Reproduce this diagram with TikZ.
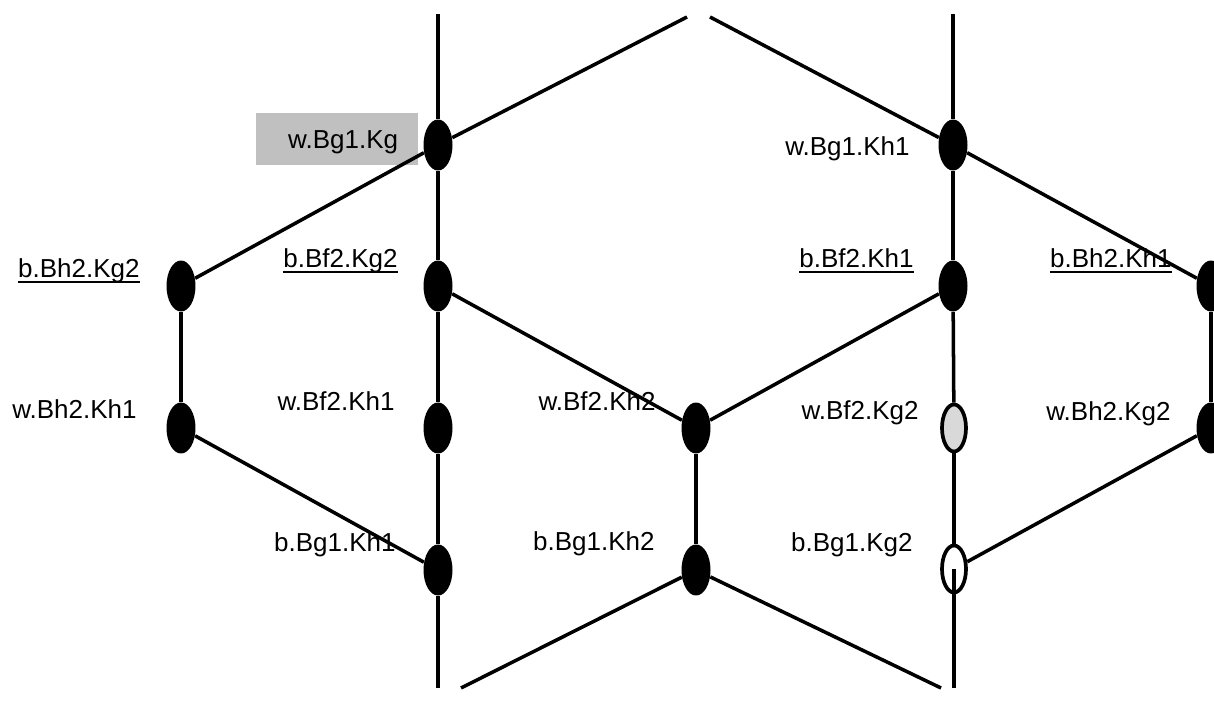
\documentclass[tikz,border=0pt]{standalone}
\usepackage{fontspec}
\setmainfont{Liberation Sans}
\usetikzlibrary{positioning, shapes.geometric}
\definecolor{boxgray}{RGB}{192,192,192}
\definecolor{nodegray}{RGB}{217,217,217}
\tikzset{
    font=\fontsize{14.8}{17}\selectfont,
    pos_black/.style={
        ellipse,
        fill=black,
        minimum width=0.58cm,
        minimum height=1.02cm,
        inner sep=0pt
    },
    pos_gray/.style={
        ellipse,
        draw=black,
        fill=nodegray,
        line width=2.1pt,
        minimum width=0.48cm,
        minimum height=0.94cm,
        inner sep=0pt
    },
    pos_white/.style={
        ellipse,
        draw=black,
        fill=white,
        line width=2.1pt,
        minimum width=0.48cm,
        minimum height=0.94cm,
        inner sep=0pt
    },
    pos_label/.style={
        anchor=base east,
        inner sep=0pt
    },
    pos_box/.style={
        rectangle,
        fill=boxgray,
        minimum width=3.24cm,
        minimum height=1.04cm,
        text height=10.6pt,
        text depth=0pt,
        inner sep=0pt
    },
    move_edge/.style={
        line width=2pt
    }
}
\newcommand{\ulab}[1]{\setbox0\hbox{#1}\rlap{\rule[-3.4pt]{\wd0}{1.1pt}}\box0}

\begin{document}
\begin{tikzpicture}[x=0.02cm, y=-0.02cm]
\useasboundingbox (0,0) rectangle (1214,713);

% --- Labels ---
\node[pos_box] (w_Bg1_Kg_lab) at (337,139) {\hspace{7pt}w.Bg1.Kg};
\node[pos_label] (b_Bh2_Kg2_lab) at (140,277) {\ulab{b.Bh2.Kg2}};
\node[pos_label] (w_Bh2_Kh1_lab) at (137,418) {w.Bh2.Kh1};
\node[pos_label] (b_Bf2_Kg2_lab) at (398,267) {\ulab{b.Bf2.Kg2}};
\node[pos_label] (w_Bf2_Kh1_lab) at (395,410) {w.Bf2.Kh1};
\node[pos_label] (b_Bg1_Kh1_lab) at (396,551) {b.Bg1.Kh1};
\node[pos_label] (w_Bf2_Kh2_lab) at (656,410) {w.Bf2.Kh2};
\node[pos_label] (b_Bg1_Kh2_lab) at (655,550) {b.Bg1.Kh2};
\node[pos_label] (w_Bg1_Kh1_lab) at (910,155) {w.Bg1.Kh1};
\node[pos_label] (b_Bf2_Kh1_lab) at (914,267) {\ulab{b.Bf2.Kh1}};
\node[pos_label] (w_Bf2_Kg2_lab) at (919,419) {w.Bf2.Kg2};
\node[pos_label] (b_Bg1_Kg2_lab) at (913,551) {b.Bg1.Kg2};
\node[pos_label] (b_Bh2_Kh1_lab) at (1172,267) {\ulab{b.Bh2.Kh1}};
\node[pos_label] (w_Bh2_Kg2_lab) at (1171,420) {w.Bh2.Kg2};

% --- Positions ---
\node[pos_black] (b_Bh2_Kg2) at (181,286) {};
\node[pos_black] (w_Bh2_Kh1) at (181,428) {};
\node[pos_black] (w_Bg1_Kg) at (438,145) {};
\node[pos_black] (b_Bf2_Kg2) at (438,286) {};
\node[pos_black] (w_Bf2_Kh1) at (438,428) {};
\node[pos_black] (b_Bg1_Kh1) at (438,570) {};
\node[pos_black] (w_Bf2_Kh2) at (696,428) {};
\node[pos_black] (b_Bg1_Kh2) at (696,570) {};
\node[pos_black] (w_Bg1_Kh1) at (953,145) {};
\node[pos_black] (b_Bf2_Kh1) at (953,286) {};
\node[pos_gray] (w_Bf2_Kg2) at (954,428) {};
\node[pos_white] (b_Bg1_Kg2) at (954,569) {};
\node[pos_black] (b_Bh2_Kh1) at (1211,286) {};
\node[pos_black] (w_Bh2_Kg2) at (1211,428) {};

% --- Open ends ---
\coordinate (top_a) at (438,14);
\coordinate (top_b) at (687,17);
\coordinate (top_c) at (710,17);
\coordinate (top_d) at (953,14);
\coordinate (bot_a) at (438,688);
\coordinate (bot_b) at (461,688);
\coordinate (bot_c) at (941,688);
\coordinate (bot_d) at (954,688);

% --- Moves ---
\draw[move_edge] (top_a) -- (w_Bg1_Kg);
\draw[move_edge] (w_Bg1_Kg) -- (b_Bf2_Kg2);
\draw[move_edge] (b_Bf2_Kg2) -- (w_Bf2_Kh1);
\draw[move_edge] (w_Bf2_Kh1) -- (b_Bg1_Kh1);
\draw[move_edge] (b_Bg1_Kh1) -- (bot_a);
\draw[move_edge] (w_Bg1_Kg) -- (top_b);
\draw[move_edge] (w_Bg1_Kg) -- (b_Bh2_Kg2);
\draw[move_edge] (b_Bh2_Kg2) -- (w_Bh2_Kh1);
\draw[move_edge] (w_Bh2_Kh1) -- (b_Bg1_Kh1);
\draw[move_edge] (b_Bf2_Kg2) -- (w_Bf2_Kh2);
\draw[move_edge] (w_Bf2_Kh2) -- (b_Bf2_Kh1);
\draw[move_edge] (w_Bf2_Kh2) -- (b_Bg1_Kh2);
\draw[move_edge] (b_Bg1_Kh2) -- (bot_b);
\draw[move_edge] (b_Bg1_Kh2) -- (bot_c);
\draw[move_edge] (top_c) -- (w_Bg1_Kh1);
\draw[move_edge] (w_Bg1_Kh1) -- (b_Bh2_Kh1);
\draw[move_edge] (top_d) -- (w_Bg1_Kh1);
\draw[move_edge] (w_Bg1_Kh1) -- (b_Bf2_Kh1);
\draw[move_edge] (b_Bf2_Kh1) -- (w_Bf2_Kg2);
\draw[move_edge] (w_Bf2_Kg2) -- (b_Bg1_Kg2);
\draw[move_edge] (b_Bg1_Kg2.center) -- (bot_d);
\draw[move_edge] (b_Bg1_Kg2) -- (w_Bh2_Kg2);
\draw[move_edge] (b_Bh2_Kh1) -- (w_Bh2_Kg2);

\end{tikzpicture}
\end{document}
